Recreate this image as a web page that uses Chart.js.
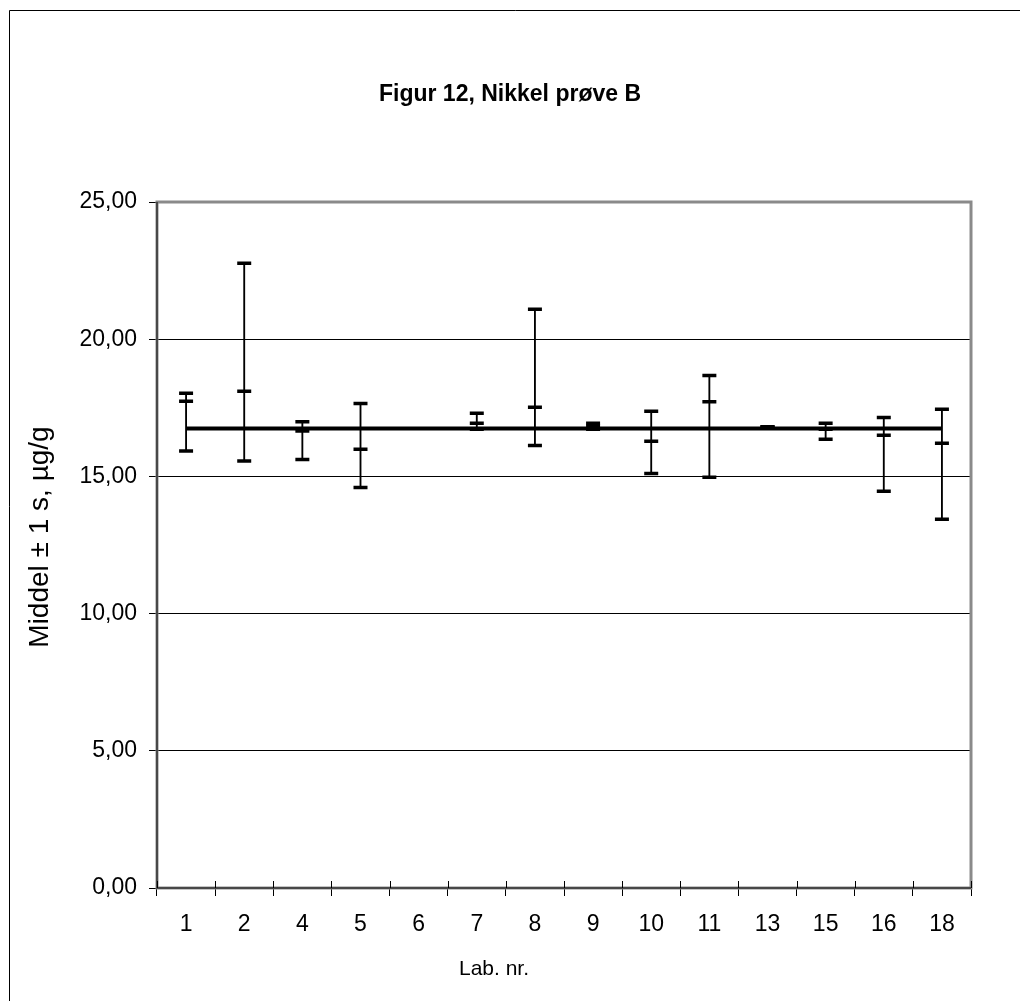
<!DOCTYPE html>
<html>
<head>
<meta charset="utf-8">
<title>Figur 12, Nikkel prøve B</title>
<script src="https://cdn.jsdelivr.net/npm/chart.js@4.4.1/dist/chart.umd.min.js"></script>
<style>
  html, body { margin: 0; padding: 0; background: #fff; }
  canvas { display: block; }
</style>
</head>
<body>
<canvas id="chart" width="1020" height="1001"></canvas>
<script>
// Laboratory numbers along the x axis
const labs = ['1', '2', '4', '5', '6', '7', '8', '9', '10', '11', '13', '15', '16', '18'];

// Per-lab marks (µg/g); lab 6 reported nothing
const seriesHigh = [18.03, 22.77, 16.99, 17.66, null, 17.30, 21.09, 16.94, 17.37, 18.68, 16.81, 16.94, 17.15, 17.45];
const seriesMid  = [17.74, 18.10, 16.65, 15.99, null, 16.94, 17.52, 16.83, 16.28, 17.72, 16.80, 16.72, 16.50, 16.21];
const seriesLow  = [15.93, 15.56, 15.62, 14.60, null, 16.72, 16.13, 16.72, 15.11, 14.97, 16.79, 16.35, 14.46, 13.44];

// Overall mean drawn as a horizontal reference line
const overallMean = [16.75, 16.75, 16.75, 16.75, 16.75, 16.75, 16.75, 16.75, 16.75, 16.75, 16.75, 16.75, 16.75, 16.75];

// Value axis ticks
const yTicks = [0, 5, 10, 15, 20, 25];

const FONT = '"Liberation Sans", Arial, Helvetica, sans-serif';

// High-low ranges for the thin vertical lines
const ranges = labs.map((_, i) =>
  seriesLow[i] == null ? null : [seriesLow[i], seriesHigh[i]]);

const decorations = {
  id: 'decorations',
  beforeDraw(chart) {
    const ctx = chart.ctx;
    ctx.save();
    ctx.fillStyle = '#fff';
    ctx.fillRect(0, 0, chart.width, chart.height);
    // outer chart border
    ctx.strokeStyle = '#000';
    ctx.lineWidth = 1;
    ctx.beginPath();
    ctx.moveTo(9.5, chart.height + 2);
    ctx.lineTo(9.5, 10.5);
    ctx.lineTo(chart.width + 2, 10.5);
    ctx.stroke();
    ctx.restore();
  },
  beforeDatasetsDraw(chart) {
    const ctx = chart.ctx;
    const a = chart.chartArea;
    ctx.save();
    // plot area frame
    ctx.strokeStyle = '#8a8a8a';
    ctx.lineWidth = 3;
    ctx.strokeRect(a.left, a.top, a.right - a.left, a.bottom - a.top);
    // darker axis lines
    ctx.strokeStyle = '#333';
    ctx.lineWidth = 1.5;
    ctx.beginPath();
    ctx.moveTo(a.left, a.top);
    ctx.lineTo(a.left, a.bottom);
    ctx.lineTo(a.right, a.bottom);
    ctx.stroke();
    // category tick marks crossing the x axis
    const xs = chart.scales.x;
    const step = (xs.right - xs.left) / labs.length;
    ctx.strokeStyle = '#000';
    ctx.lineWidth = 1;
    ctx.beginPath();
    for (let i = 0; i <= labs.length; i++) {
      const x = Math.round(xs.left + i * step) + 0.5;
      ctx.moveTo(x, a.bottom - 7);
      ctx.lineTo(x, a.bottom);
    }
    ctx.stroke();
    ctx.restore();
  },
  afterDraw(chart) {
    const ctx = chart.ctx;
    const a = chart.chartArea;
    ctx.save();
    ctx.fillStyle = '#000';
    ctx.textAlign = 'center';
    ctx.textBaseline = 'alphabetic';
    // chart title, centred on the whole canvas
    ctx.font = 'bold 23px ' + FONT;
    ctx.fillText('Figur 12, Nikkel prøve B', chart.width / 2, 101);
    // x axis caption
    ctx.font = '21px ' + FONT;
    ctx.fillText('Lab. nr.', a.left + 337, 975);
    // y axis caption
    ctx.font = '28px ' + FONT;
    ctx.translate(48, 537);
    ctx.rotate(-Math.PI / 2);
    ctx.fillText('Middel \u00b1 1 s, \u00b5g/g', 0, 0);
    ctx.restore();
  }
};

const markerStyle = {
  type: 'line',
  showLine: false,
  pointStyle: 'line',
  pointRadius: 7,
  pointHoverRadius: 7,
  pointBorderWidth: 3.5,
  pointHoverBorderWidth: 3.5,
  pointBorderColor: '#000',
  pointBackgroundColor: '#000',
  order: 0
};

new Chart(document.getElementById('chart'), {
  type: 'bar',
  data: {
    labels: labs,
    datasets: [
      Object.assign({ label: 'Høy', data: seriesHigh }, markerStyle),
      Object.assign({ label: 'Middel', data: seriesMid }, markerStyle),
      Object.assign({ label: 'Lav', data: seriesLow }, markerStyle),
      {
        type: 'bar',
        label: 'Spenn',
        data: ranges,
        backgroundColor: '#000',
        borderWidth: 0,
        barThickness: 1.2,
        order: 1
      },
      {
        type: 'line',
        label: 'Gjennomsnitt',
        data: overallMean,
        borderColor: '#000',
        borderWidth: 4,
        pointRadius: 0,
        pointHoverRadius: 0,
        fill: false,
        tension: 0,
        order: 2
      }
    ]
  },
  options: {
    responsive: false,
    animation: false,
    events: [],
    layout: { padding: { left: 0, right: 49, top: 202, bottom: 0 } },
    plugins: {
      legend: { display: false },
      tooltip: { enabled: false },
      title: { display: false }
    },
    scales: {
      x: {
        type: 'category',
        offset: true,
        grid: {
          offset: true,
          drawOnChartArea: false,
          drawTicks: true,
          tickLength: 8,
          color: '#000',
          lineWidth: 1
        },
        border: { display: false },
        ticks: {
          color: '#000',
          font: { family: FONT, size: 23 },
          padding: 15,
          maxRotation: 0,
          autoSkip: false
        },
        afterFit(scale) { scale.height = 113; }
      },
      y: {
        min: 0,
        max: 25,
        grid: {
          color: '#000',
          lineWidth: 1,
          drawTicks: true,
          tickLength: 8
        },
        border: { display: false },
        ticks: {
          color: '#000',
          font: { family: FONT, size: 23 },
          padding: 12,
          callback: (v) => Number(v).toFixed(2).replace('.', ',')
        },
        afterBuildTicks(scale) { scale.ticks = yTicks.map(v => ({ value: v })); },
        afterFit(scale) { scale.width = 157; }
      }
    }
  },
  plugins: [decorations]
});
</script>
</body>
</html>
